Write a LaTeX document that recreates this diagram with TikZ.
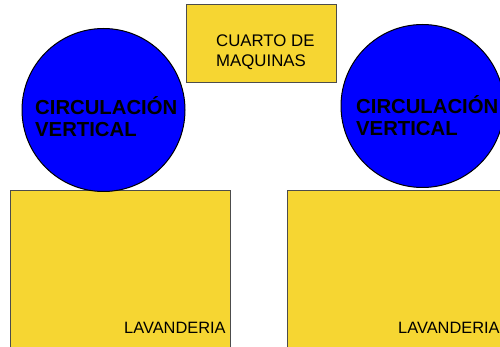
\documentclass[tikz,border=0pt]{standalone}
\usepackage{fontspec}
\setmainfont{Liberation Sans}
\usetikzlibrary{positioning}
\definecolor{plano}{RGB}{246,214,50}
\definecolor{azul}{RGB}{0,0,255}
\tikzset{
  sala/.style={draw=black!70,fill=plano,rectangle,inner sep=0pt,line width=1pt},
  nucleo/.style={draw=black,fill=azul,circle,inner sep=0pt,minimum size=163pt,line width=1pt},
  rotulo/.style={anchor=base west,inner sep=0pt,align=left,font=\fontsize{16.8pt}{20pt}\selectfont},
  rotulob/.style={rotulo,font=\fontsize{20.3pt}{22pt}\selectfont\bfseries}
}

\begin{document}
\begin{tikzpicture}[x=1pt,y=-1pt]
\useasboundingbox (0,0) rectangle (500,347);
\clip (0,0) rectangle (500,347);

% salas
\node[sala,minimum width=150pt,minimum height=78pt] (cuarto) at (261,44) {};
\node[sala,minimum width=220pt,minimum height=170pt] (lavizq) at (120,276) {};
\node[sala,minimum width=223pt,minimum height=170pt] (lavder) at (398.5,276) {};

% circulaciones
\node[nucleo] (circizq) at (103.5,110) {};
\node[nucleo] (circder) at (422.5,106) {};

% rotulos (base = ultima linea)
\node[rotulo] (txtcuarto) at (216,66.5) {CUARTO DE\\MAQUINAS};
\node[rotulob] (txtcircizq) at (35,137) {CIRCULACIÓN\\VERTICAL};
\node[rotulob] (txtcircder) at (356,136) {CIRCULACIÓN\\VERTICAL};
\node[rotulo,font=\fontsize{16.4pt}{20pt}\selectfont] (txtlavizq) at (124,333) {LAVANDERIA};
\node[rotulo,font=\fontsize{16.4pt}{20pt}\selectfont] (txtlavder) at (398,333) {LAVANDERIA};

\end{tikzpicture}
\end{document}
